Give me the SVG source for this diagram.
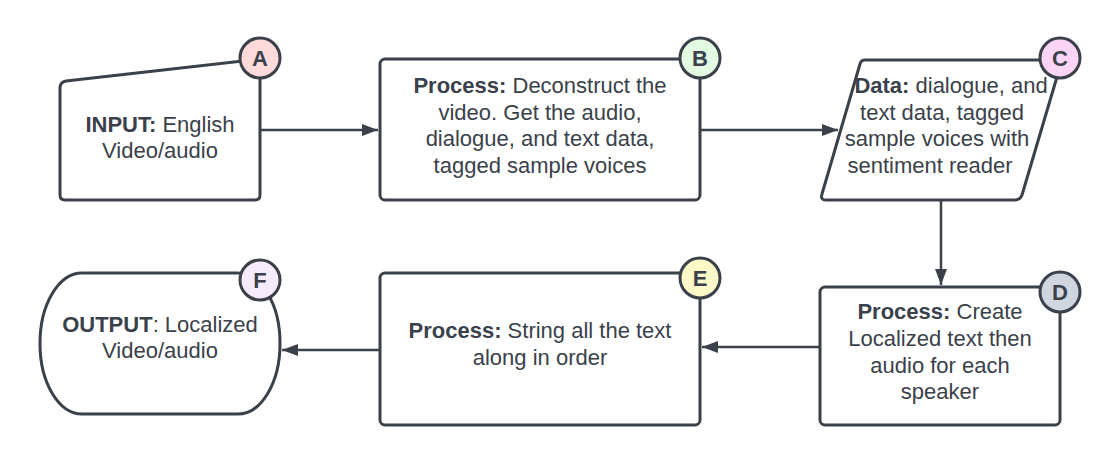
<svg xmlns="http://www.w3.org/2000/svg" width="1120" height="466" viewBox="0 0 1120 466">
<style>
.shape{fill:#ffffff;stroke:#3a414a;stroke-width:3;stroke-linejoin:round}
.conn{fill:none;stroke:#3a414a;stroke-width:2.5}
.lbl{font-family:"Liberation Sans",Arial,sans-serif;font-size:22px;fill:#3a414a;text-anchor:middle}
.b{font-weight:bold}
.badge{stroke:#3a414a;stroke-width:3}
.bt{font-family:"Liberation Sans",Arial,sans-serif;font-size:22px;font-weight:bold;fill:#3a414a;text-anchor:middle}
</style>
<defs>
<marker id="arr" viewBox="0 0 16 12" refX="16" refY="6" markerWidth="16" markerHeight="12" markerUnits="userSpaceOnUse" orient="auto">
<path d="M0,0 L16,6 L0,12 Z" fill="#3a414a"/>
</marker>
</defs>
<rect width="1120" height="466" fill="#ffffff"/>
<g id="connectors">
<path class="conn" d="M261,130 H378" marker-end="url(#arr)"/>
<path class="conn" d="M700,130 H838" marker-end="url(#arr)"/>
<path class="conn" d="M941,200 V285" marker-end="url(#arr)"/>
<path class="conn" d="M820,347 H702" marker-end="url(#arr)"/>
<path class="conn" d="M380,350 H282" marker-end="url(#arr)"/>
</g>
<g id="node-A">
<path class="shape" d="M60,88 Q60,82 66,81 L260,59 L260,195 Q260,200 255,200 L65,200 Q60,200 60,195 Z"/>
<text class="lbl" x="160" y="132"><tspan class="b">INPUT:</tspan> English</text>
<text class="lbl" x="160" y="158">Video/audio</text>
<circle class="badge" cx="260" cy="58" r="20" fill="#ffdada"/>
<text class="bt" x="260" y="66">A</text>
</g>
<g id="node-B">
<rect class="shape" x="380" y="59" width="320" height="141" rx="5"/>
<text class="lbl" x="540" y="93"><tspan class="b">Process:</tspan> Deconstruct the</text>
<text class="lbl" x="540" y="120">video. Get the audio,</text>
<text class="lbl" x="540" y="146">dialogue, and text data,</text>
<text class="lbl" x="540" y="173">tagged sample voices</text>
<circle class="badge" cx="700" cy="58" r="20" fill="#e2f9e2"/>
<text class="bt" x="700" y="66">B</text>
</g>
<g id="node-C">
<path class="shape" d="M865,60 L1062,60 L1022,195 Q1020,200 1015,200 L826,200 Q820,200 822,194 L860,64 Q861,60 865,60 Z"/>
<text class="lbl" x="951" y="93"><tspan class="b">Data:</tspan> dialogue, and</text>
<text class="lbl" x="942" y="120">text data, tagged</text>
<text class="lbl" x="937" y="146">sample voices with</text>
<text class="lbl" x="930" y="173">sentiment reader</text>
<circle class="badge" cx="1060" cy="58" r="20" fill="#fcd5f6"/>
<text class="bt" x="1060" y="66">C</text>
</g>
<g id="node-D">
<rect class="shape" x="820" y="287" width="240" height="138" rx="5"/>
<text class="lbl" x="940" y="319"><tspan class="b">Process:</tspan> Create</text>
<text class="lbl" x="940" y="346">Localized text then</text>
<text class="lbl" x="940" y="373">audio for each</text>
<text class="lbl" x="940" y="399">speaker</text>
<circle class="badge" cx="1060" cy="292" r="20" fill="#d0d6de"/>
<text class="bt" x="1060" y="300">D</text>
</g>
<g id="node-E">
<rect class="shape" x="380" y="273" width="320" height="152" rx="5"/>
<text class="lbl" x="540" y="338"><tspan class="b">Process:</tspan> String all the text</text>
<text class="lbl" x="540" y="365">along in order</text>
<circle class="badge" cx="700" cy="278" r="20" fill="#fcf8c8"/>
<text class="bt" x="700" y="286">E</text>
</g>
<g id="node-F">
<rect class="shape" x="40" y="273" width="240" height="141" rx="42" ry="70"/>
<text class="lbl" x="160" y="332"><tspan class="b">OUTPUT</tspan>: Localized</text>
<text class="lbl" x="160" y="358">Video/audio</text>
<circle class="badge" cx="260" cy="280" r="20" fill="#f6ebfc"/>
<text class="bt" x="260" y="288">F</text>
</g>
</svg>
